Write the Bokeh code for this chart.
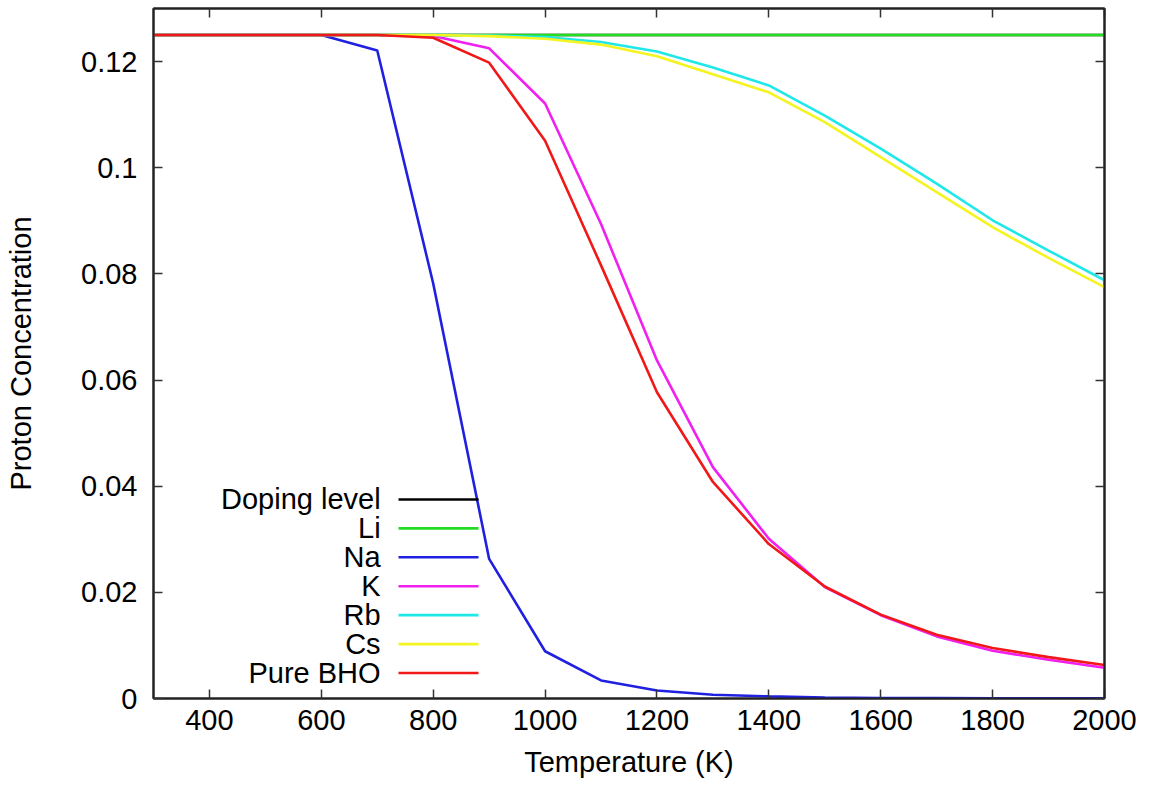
from bokeh.plotting import figure
from bokeh.models import (Range1d, FixedTicker, LinearAxis, CustomJSTickFormatter)
from bokeh.core.properties import value
from bokeh.embed import file_html
from bokeh.resources import INLINE

# ---------------- data ----------------
temperature = [300, 400, 500, 600, 700, 800, 900, 1000, 1100, 1200,
               1300, 1400, 1500, 1600, 1700, 1800, 1900, 2000]
doping_level = [0.125] * 18
li = [0.125] * 18
na = [0.125, 0.125, 0.125, 0.125, 0.1221, 0.0782, 0.0263, 0.0089, 0.0034, 0.0015,
      0.0007, 0.0004, 0.0002, 0.0001, 0.0001, 0.00005, 0.00003, 0.00002]
k = [0.125, 0.125, 0.125, 0.125, 0.125, 0.1248, 0.1225, 0.1121, 0.0894, 0.0637,
     0.0436, 0.0301, 0.0210, 0.0157, 0.0117, 0.0090, 0.0073, 0.0058]
rb = [0.125, 0.125, 0.125, 0.125, 0.125, 0.125, 0.1249, 0.1246, 0.1237, 0.1219,
      0.1189, 0.1155, 0.1098, 0.1036, 0.0970, 0.0901, 0.0844, 0.0788]
cs = [0.125, 0.125, 0.125, 0.125, 0.125, 0.125, 0.1248, 0.1243, 0.1232, 0.1210,
      0.1176, 0.1142, 0.1086, 0.1020, 0.0954, 0.0888, 0.0830, 0.0775]
pure_bho = [0.125, 0.125, 0.125, 0.125, 0.125, 0.1245, 0.1198, 0.1051, 0.0816, 0.0577,
            0.0408, 0.0291, 0.0211, 0.0158, 0.0120, 0.0095, 0.0078, 0.0063]

series_names = ["Doping level", "Li", "Na", "K", "Rb", "Cs", "Pure BHO"]
series_values = [doping_level, li, na, k, rb, cs, pure_bho]
series_colors = ["#000000", "#22dd22", "#2020e0", "#f020f0", "#20e8e8", "#f4f420", "#f01818"]

x_ticks = [400, 600, 800, 1000, 1200, 1400, 1600, 1800, 2000]
y_ticks = [0.0, 0.02, 0.04, 0.06, 0.08, 0.10, 0.12]

FONT = "Liberation Sans"
FS = "29px"

p = figure(width=1149, height=788, output_backend="svg", toolbar_location=None,
           x_range=Range1d(300, 2000), y_range=Range1d(0, 0.13),
           min_border_left=153, min_border_right=45, min_border_top=8,
           min_border_bottom=90, x_axis_label="Temperature (K)",
           y_axis_label="Proton Concentration")
p.grid.visible = False
p.background_fill_color = "white"
p.border_fill_color = "white"
p.outline_line_color = "#222222"
p.outline_line_width = 2

fmt = CustomJSTickFormatter(code="""
var s = tick.toFixed(2);
if (s.indexOf('.') >= 0) { s = s.replace(/0+$/, '').replace(/\\.$/, ''); }
return s;
""")

xa = p.xaxis[0]
ya = p.yaxis[0]
xa.ticker = FixedTicker(ticks=x_ticks)
ya.ticker = FixedTicker(ticks=y_ticks)
ya.formatter = fmt
for ax in (xa, ya):
    ax.major_tick_in = 9
    ax.major_tick_out = 0
    ax.minor_tick_in = 0
    ax.minor_tick_out = 0
    ax.axis_line_color = "#222222"
    ax.axis_line_width = 2
    ax.major_tick_line_color = "#333333"
    ax.major_tick_line_width = 1.5
    ax.major_label_text_font = FONT
    ax.major_label_text_font_size = FS
    ax.major_label_text_color = "black"
    ax.axis_label_text_font = FONT
    ax.axis_label_text_font_size = FS
    ax.axis_label_text_font_style = "normal"
    ax.axis_label_text_color = "black"
xa.major_label_standoff = 11
xa.axis_label_standoff = 13
ya.major_label_standoff = 16
ya.axis_label_standoff = 41

# mirrored ticks on top and right (no labels drawn)
top = LinearAxis(ticker=FixedTicker(ticks=x_ticks))
right = LinearAxis(ticker=FixedTicker(ticks=y_ticks))
for ax in (top, right):
    ax.major_tick_in = 9
    ax.major_tick_out = 0
    ax.minor_tick_in = 0
    ax.minor_tick_out = 0
    ax.major_label_text_font_size = "1px"
    ax.major_label_text_color = None
    ax.major_label_standoff = 0
    ax.axis_line_color = "#222222"
    ax.axis_line_width = 2
    ax.major_tick_line_color = "#333333"
    ax.major_tick_line_width = 1.5
p.add_layout(top, "above")
p.add_layout(right, "right")

for name, vals, col in zip(series_names, series_values, series_colors):
    p.line(temperature, vals, line_color=col, line_width=2.6)

# gnuplot-style key (label left, sample right), placed inside bottom-left
key_text_right = 706
key_line_x0, key_line_x1 = 738, 881
key_top_y = 0.0375
key_step = 0.00545
key_y = [key_top_y - i * key_step for i in range(len(series_names))]
p.text(x=[key_text_right] * len(series_names), y=key_y, text=series_names,
       text_align="right", text_baseline="middle", text_color="black",
       text_font=value(FONT), text_font_size=value(FS))
p.segment(x0=[key_line_x0] * len(series_names), x1=[key_line_x1] * len(series_names),
          y0=key_y, y1=key_y, line_color=series_colors, line_width=2.6)

open("out.html", "w").write(file_html(p, INLINE))
